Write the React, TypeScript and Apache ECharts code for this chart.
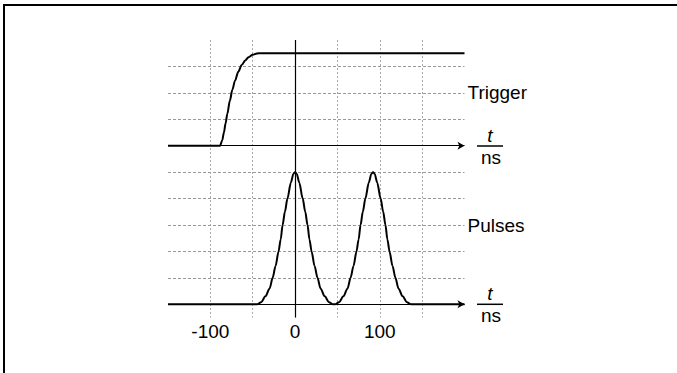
import React, { useEffect, useRef } from "react";
import * as echarts from "echarts";

// x values in ns, y values in chart units (pulses baseline 0, trigger baseline 6)
const triggerT = [-150, -88.5, -86, -84, -82, -80, -77, -74, -71, -67, -63, -59, -55, -50, -45, -40, 200];
const triggerV = [6, 6, 6.2, 6.5, 6.85, 7.2, 7.7, 8.12, 8.45, 8.8, 9.05, 9.22, 9.35, 9.44, 9.49, 9.5, 9.5];

const pulseT = [
  -150, -45, -40, -35, -30, -26.5, -23, -19.5, -17, -14.7, -12, -9, -5, -2, 0,
  2, 5, 9, 12, 14.7, 17, 19.5, 23, 26.5, 30, 35, 40, 45,
  47, 52, 57, 62, 65.5, 69, 72.5, 75, 77.3, 80, 83, 87, 90, 92,
  94, 97, 101, 104, 106.7, 109, 111.5, 115, 118.5, 122, 127, 132, 137, 200,
];
const pulseV = [
  0, 0, 0.08, 0.3, 0.6, 1, 1.45, 2, 2.45, 3, 3.5, 4, 4.6, 4.93, 5,
  4.93, 4.6, 4, 3.5, 3, 2.45, 2, 1.45, 1, 0.6, 0.3, 0.08, 0,
  0, 0.08, 0.3, 0.6, 1, 1.45, 2, 2.45, 3, 3.5, 4, 4.6, 4.93, 5,
  4.93, 4.6, 4, 3.5, 3, 2.45, 2, 1.45, 1, 0.6, 0.3, 0.08, 0, 0,
];

const xTickLabels = [-100, 0, 100];
const gridLevels = [1, 2, 3, 4, 5, 7, 8, 9];
const axisLevels = [0, 6];
const levelLabels: Record<number, string> = { 8: "Trigger", 3: "Pulses" };

const FONT = "'Liberation Sans', Arial, Helvetica, sans-serif";

export default function App() {
  const ref = useRef<HTMLDivElement>(null);
  useEffect(() => {
    if (!ref.current) return;
    const chart = echarts.init(ref.current, undefined, { renderer: "svg" });
    const fracLabel = (axisY: number) => ({
      type: "group",
      children: [
        {
          type: "text",
          x: 490,
          y: axisY - 11,
          style: { text: "t", fontSize: 19, fontStyle: "italic", fontFamily: FONT, fill: "#000", align: "center", verticalAlign: "middle" },
        },
        {
          type: "line",
          shape: { x1: 477, y1: axisY, x2: 503, y2: axisY },
          style: { stroke: "#000", lineWidth: 1.5 },
        },
        {
          type: "text",
          x: 491,
          y: axisY + 11,
          style: { text: "ns", fontSize: 19, fontFamily: FONT, fill: "#000", align: "center", verticalAlign: "middle" },
        },
      ],
    });
    chart.setOption({
      animation: false,
      backgroundColor: "#fff",
      grid: { left: 168, right: 212.5, top: 40, bottom: 55.5 },
      xAxis: {
        type: "value",
        min: -150,
        max: 200,
        interval: 50,
        axisLine: { show: false, onZero: false },
        axisTick: { show: false },
        axisLabel: {
          margin: 4,
          fontSize: 19,
          fontFamily: FONT,
          color: "#000",
          formatter: (v: number) => (xTickLabels.includes(v) ? String(v) : ""),
        },
        splitLine: {
          show: true,
          showMinLine: false,
          showMaxLine: false,
          lineStyle: { color: "#aaa", width: 1, type: [2, 2] },
        },
      },
      yAxis: {
        type: "value",
        min: -0.5,
        max: 10,
        interval: 0.5,
        axisLine: { show: false },
        axisTick: { show: false },
        axisLabel: { show: false },
        splitLine: { show: false },
      },
      graphic: [
        {
          type: "polyline",
          shape: { points: [[4, 380], [4, 5], [690, 5]] },
          style: { fill: "none", stroke: "#000", lineWidth: 2 },
          z: 100,
        },
        fracLabel(146),
        fracLabel(304.3),
      ],
      series: [
        {
          type: "line",
          data: [],
          z: 1,
          markLine: {
            silent: true,
            z: 1,
            symbol: ["none", "none"],
            animation: false,
            data: [
              ...gridLevels.map((lv) => ({
                yAxis: lv,
                lineStyle: { color: "#999", width: 1, type: [3, 2] },
                label: levelLabels[lv]
                  ? { show: true, position: "end", distance: 3, formatter: levelLabels[lv], fontSize: 19, fontFamily: FONT, color: "#000" }
                  : { show: false },
              })),
              {
                xAxis: 0,
                lineStyle: { color: "#000", width: 1.2, type: "solid" },
                label: { show: false },
              },
            ],
          },
        },
        {
          type: "line",
          data: [],
          z: 2,
          markLine: {
            silent: true,
            z: 2,
            symbol: ["none", "arrow"],
            symbolSize: [6, 7],
            animation: false,
            data: axisLevels.map((lv) => ({
              yAxis: lv,
              lineStyle: { color: "#000", width: 1.2, type: "solid" },
              label: { show: false },
            })),
          },
        },
        {
          name: "Trigger",
          type: "line",
          z: 3,
          showSymbol: false,
          smooth: 0.3,
          smoothMonotone: "x",
          lineStyle: { color: "#000", width: 2 },
          data: triggerT.map((t, i) => [t, triggerV[i]]),
        },
        {
          name: "Pulses",
          type: "line",
          z: 3,
          showSymbol: false,
          smooth: 0.3,
          smoothMonotone: "x",
          lineStyle: { color: "#000", width: 2 },
          data: pulseT.map((t, i) => [t, pulseV[i]]),
        },
      ],
    });
    return () => chart.dispose();
  }, []);
  return <div ref={ref} style={{ position: "absolute", left: 0, top: 0, width: 677, height: 373 }} />;
}
